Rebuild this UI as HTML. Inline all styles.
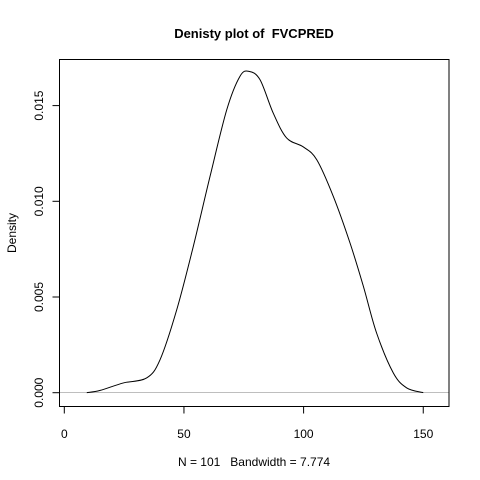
<!DOCTYPE html>
<html><head><meta charset="utf-8">
<style>
html,body{margin:0;padding:0;background:#fff;}
svg{display:block;font-family:"Liberation Sans",Arial,sans-serif;}
</style></head>
<body>
<svg id="chart" width="480" height="480" viewBox="0 0 480 480" xmlns="http://www.w3.org/2000/svg">
<rect width="480" height="480" fill="#fff"/>
<text x="254" y="38" text-anchor="middle" font-size="13" font-weight="bold" xml:space="preserve">Denisty plot of  FVCPRED</text>
<text x="254" y="466" text-anchor="middle" font-size="12" xml:space="preserve">N = 101   Bandwidth = 7.774</text>
<text x="0" y="0" transform="translate(16,233) rotate(-90)" text-anchor="middle" font-size="12">Density</text>
<line x1="59" x2="449" y1="392.5" y2="392.5" stroke="#bebebe" stroke-width="1"/>
<g id="xaxis"></g>
<g id="yaxis"></g>
<path id="curve" fill="none" stroke="#000" stroke-width="1"/>
<rect x="59.5" y="59.5" width="389.5" height="347" fill="none" stroke="#000" stroke-width="1"/>
</svg>
<script>
const xVals = [9.4, 15, 24.7, 34.4, 40, 47, 53.9, 60.9, 67.9, 73.4, 77.2, 81.8, 87.3, 92.9, 99.9, 105.5, 112.4, 119.4, 125, 130.5, 137.5, 143.1, 150];
const dVals = [0, 0.00012, 0.00051, 0.00077, 0.00172, 0.00434, 0.00764, 0.0113, 0.01479, 0.01653, 0.01679, 0.01635, 0.01461, 0.01331, 0.01284, 0.01217, 0.01026, 0.00782, 0.00555, 0.00312, 0.00103, 0.00025, 0];
const xTicks = [0, 50, 100, 150];
const yTicks = [0, 0.005, 0.010, 0.015];
const yTickLabels = ["0.000", "0.005", "0.010", "0.015"];

const NS = "http://www.w3.org/2000/svg";
function sx(v){ return 64.3 + v * 2.393; }
function sy(v){ return 392.7 - v * 19140; }

const xa = document.getElementById('xaxis');
const ya = document.getElementById('yaxis');
function mk(tag, attrs, parent){
  const e = document.createElementNS(NS, tag);
  for (const k in attrs) e.setAttribute(k, attrs[k]);
  parent.appendChild(e);
  return e;
}
const xl = mk('line', {x1: sx(xTicks[0]), x2: sx(xTicks[xTicks.length-1]), y1: 406.5, y2: 406.5, stroke: '#000'}, xa);


xTicks.forEach(t => {
  const tk = mk('line', {x1: sx(t), x2: sx(t), y1: 406.5, y2: 413.5, stroke: '#000'}, xa);
  
  
  const lb = mk('text', {x: sx(t), y: 438, 'text-anchor': 'middle', 'font-size': 12}, xa);
  
  
  lb.textContent = String(t);
});
yTicks.forEach((t, i) => {
  const tk = mk('line', {x1: 52.5, x2: 59.5, y1: sy(t), y2: sy(t), stroke: '#000'}, ya);
  
  
  const lb = mk('text', {x: 0, y: 0, transform: 'translate(43,' + sy(t) + ') rotate(-90)', 'text-anchor': 'middle', 'font-size': 12}, ya);
  
  
  lb.textContent = yTickLabels[i];
});

const pts = xVals.map((x, i) => [sx(x), sy(dVals[i])]);
let d = 'M' + pts[0][0] + ',' + pts[0][1];
for (let i = 0; i < pts.length - 1; i++) {
  const p0 = pts[i-1] || pts[i], p1 = pts[i], p2 = pts[i+1], p3 = pts[i+2] || pts[i+1];
  const c1x = p1[0] + (p2[0] - p0[0]) / 6, c1y = p1[1] + (p2[1] - p0[1]) / 6;
  const c2x = p2[0] - (p3[0] - p1[0]) / 6, c2y = p2[1] - (p3[1] - p1[1]) / 6;
  d += ' C' + c1x + ',' + c1y + ' ' + c2x + ',' + c2y + ' ' + p2[0] + ',' + p2[1];
}
document.getElementById('curve').setAttribute('d', d);
</script>
</body></html>
